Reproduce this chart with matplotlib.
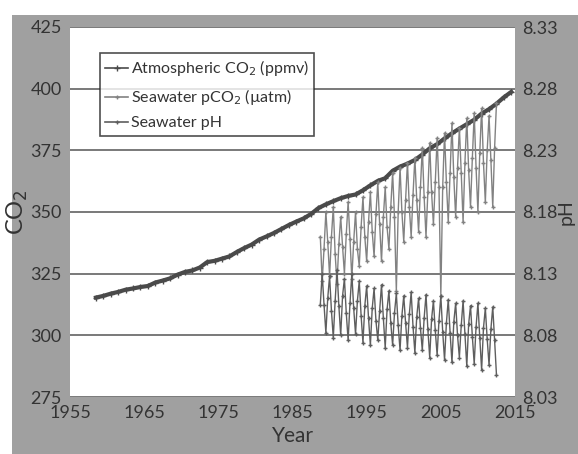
import numpy as np
import matplotlib
matplotlib.use("Agg")
import matplotlib.pyplot as plt
from matplotlib.patches import Rectangle

plt.rcParams['font.family'] = ['Lato', 'DejaVu Sans']

# Atmospheric CO2 (ppmv), annual means
atm_years = np.arange(1958, 2015) + 0.5
atm_co2 = [315.3, 316.0, 316.9, 317.6, 318.5, 319.0, 319.6, 320.0, 321.4, 322.2,
           323.1, 324.6, 325.7, 326.3, 327.5, 329.7, 330.2, 331.1, 332.0, 333.8,
           335.4, 336.8, 338.8, 340.1, 341.5, 343.1, 344.7, 346.1, 347.4, 349.2,
           351.6, 353.1, 354.4, 355.6, 356.5, 357.1, 358.8, 360.8, 362.6, 363.7,
           366.7, 368.4, 369.6, 371.1, 373.3, 375.8, 377.5, 379.8, 381.9, 383.8,
           385.6, 387.4, 389.9, 391.7, 393.9, 396.5, 398.7]

# Seawater samples, quarterly from late 1988
sea_years = np.arange(1988.75, 2012.51, 0.25)
sea_pco2 = [340,
            322, 335, 350, 338,
            324, 340, 352, 333,
            321, 337, 348, 336,
            325, 341, 354, 339,
            323, 338, 350, 335,
            328, 344, 356, 340,
            330, 346, 358, 342,
            332, 349, 362, 345,
            330, 348, 360, 344,
            335, 352, 366, 348,
            318, 350, 368, 350,
            338, 355, 370, 352,
            340, 357, 372, 355,
            342, 360, 376, 356,
            340, 358, 378, 358,
            345, 362, 380, 360,
            316, 360, 382, 362,
            346, 366, 386, 364,
            348, 368, 384, 366,
            346, 370, 388, 367,
            352, 372, 390, 368,
            350, 374, 392, 370,
            354, 375, 389, 371,
            352, 376, 394]
sea_ph = [8.105,
          8.130, 8.105, 8.082, 8.110,
          8.128, 8.100, 8.078, 8.108,
          8.133, 8.104, 8.080, 8.112,
          8.126, 8.098, 8.076, 8.106,
          8.130, 8.102, 8.081, 8.108,
          8.124, 8.096, 8.074, 8.104,
          8.120, 8.094, 8.072, 8.102,
          8.118, 8.092, 8.076, 8.100,
          8.121, 8.094, 8.070, 8.101,
          8.116, 8.090, 8.072, 8.098,
          8.114, 8.088, 8.068, 8.096,
          8.112, 8.090, 8.070, 8.097,
          8.115, 8.087, 8.066, 8.095,
          8.110, 8.086, 8.068, 8.094,
          8.113, 8.085, 8.062, 8.093,
          8.108, 8.084, 8.064, 8.092,
          8.112, 8.083, 8.060, 8.090,
          8.109, 8.082, 8.058, 8.091,
          8.106, 8.080, 8.062, 8.088,
          8.108, 8.081, 8.055, 8.089,
          8.104, 8.079, 8.057, 8.087,
          8.106, 8.078, 8.052, 8.086,
          8.102, 8.077, 8.056, 8.085,
          8.103, 8.076, 8.048]

co2_ticks = [275, 300, 325, 350, 375, 400, 425]
ph_ticks = [8.03, 8.08, 8.13, 8.18, 8.23, 8.28, 8.33]
year_ticks = [1955, 1965, 1975, 1985, 1995, 2005, 2015]

txt = '#333333'
fig = plt.figure(figsize=(5.78, 4.54), dpi=100, facecolor='white')
# gray scanned frame
fig.patches.append(Rectangle((12 / 578, 0), 1, (454 - 15) / 454, transform=fig.transFigure,
                             facecolor='#a0a0a0', edgecolor='none', zorder=-10))

ax = fig.add_axes([70 / 578, 57 / 454, 445 / 578, 370 / 454])
ax.set_facecolor('white')
ax.set_xlim(1955, 2015)
ax.set_ylim(275, 425)
ax.set_yticks(co2_ticks)
ax.set_xticks(year_ticks)
ax.grid(axis='y', color='#555555', linewidth=1.1)
ax.set_axisbelow(True)
for s in ax.spines.values():
    s.set_visible(False)
ax.tick_params(length=0, labelsize=13, colors=txt, pad=6)
ax.set_xlabel('Year', fontsize=15, color=txt, labelpad=3)
ax.set_ylabel('CO$_2$', fontsize=17, color=txt, labelpad=0)

ax2 = ax.twinx()
ax2.set_ylim(8.03, 8.33)
ax2.set_yticks(ph_ticks)
ax2.set_yticklabels(['%.2f' % t for t in ph_ticks])
for s in ax2.spines.values():
    s.set_visible(False)
ax2.tick_params(length=0, labelsize=13, colors=txt, pad=5)
ax2.set_ylabel('pH', fontsize=14, color=txt, labelpad=0)

l1, = ax.plot(atm_years, atm_co2, color='#4a4a4a', linewidth=3, marker='+', markersize=4,
              label='Atmospheric CO$_2$ (ppmv)')
l2, = ax.plot(sea_years, sea_pco2, color='#828282', linewidth=1.0, marker='+', markersize=3,
              label='Seawater pCO$_2$ (\u00b5atm)')
l3, = ax2.plot(sea_years, sea_ph, color='#5e5e5e', linewidth=1.0, marker='+', markersize=3,
               label='Seawater pH')

leg = ax.legend(handles=[l1, l2, l3], loc='upper left', bbox_to_anchor=(0.067, 0.93),
                borderaxespad=0, fontsize=11.5, frameon=True, fancybox=False,
                edgecolor='#222222', handlelength=1.4, handletextpad=0.2,
                borderpad=0.35, labelspacing=0.55)
leg.get_frame().set_linewidth(1.2)
for h in leg.legend_handles:
    h.set_linewidth(1.2)
for t in leg.get_texts():
    t.set_color(txt)
leg.set_zorder(5)

fig.savefig('out.png', dpi=100, facecolor=fig.get_facecolor())
